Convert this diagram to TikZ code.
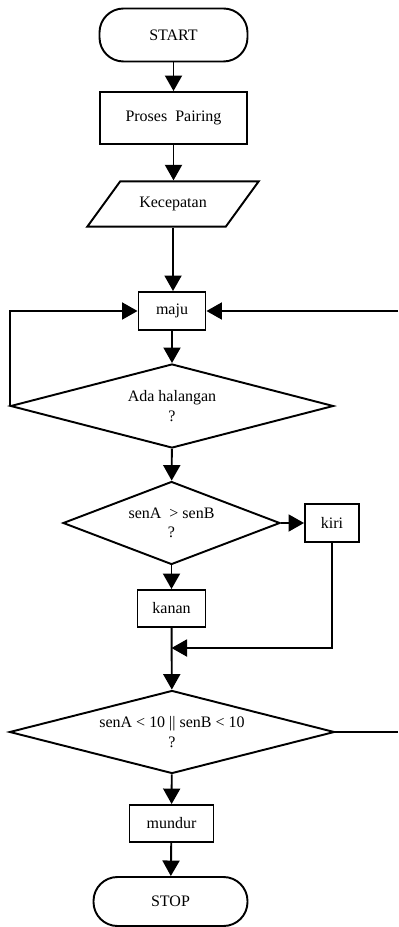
\documentclass[tikz,border=0pt]{standalone}
\usepackage{fontspec}
\setmainfont{Liberation Serif}
\usetikzlibrary{shapes.geometric,arrows.meta,positioning}

\begin{document}
\begin{tikzpicture}[
        line width=1.1pt,
        >={Triangle[width=0.34cm,length=0.31cm]},
        every node/.style={font=\fontsize{9.1}{11}\selectfont, align=center, inner sep=0pt},
        terminal/.style={rectangle, draw, rounded corners=0.48cm},
        process/.style={rectangle, draw},
        inout/.style={trapezium, draw, trapezium left angle=54, trapezium right angle=126,
            inner xsep=0pt, inner ysep=0.315cm, text width=2.11cm},
        decision/.style={diamond, draw, aspect=4},
    ]
        \useasboundingbox (0,0) rectangle (7.96,-18.54);

        \node[terminal, minimum width=2.96cm, minimum height=1.06cm] (start) at (3.47,-0.70) {START};
        \node[process, minimum width=2.94cm, minimum height=1.04cm] (pairing) at (3.47,-2.36) {Proses~ Pairing};
        \node[inout] (speed) at (3.46,-4.08) {Kecepatan};
        \node[process, minimum width=1.34cm, minimum height=0.76cm] (maju) at (3.44,-6.22) {maju};
        \node[decision, minimum width=6.46cm, minimum height=1.68cm] (obstacle) at (3.44,-8.12) {Ada halangan\\?};
        \node[decision, minimum width=4.34cm, minimum height=1.66cm] (compare) at (3.43,-10.46) {senA~ > senB\\?};
        \node[process, minimum width=1.08cm, minimum height=0.76cm] (kiri) at (6.64,-10.46) {kiri};
        \node[process, minimum width=1.36cm, minimum height=0.74cm] (kanan) at (3.43,-12.17) {kanan};
        \node[decision, minimum width=6.5cm, minimum height=1.66cm] (near) at (3.44,-14.64) {senA < 10 || senB < 10\\?};
        \node[process, minimum width=1.68cm, minimum height=0.74cm] (mundur) at (3.43,-16.47) {mundur};
        \node[terminal, minimum width=3.08cm, minimum height=0.98cm] (stop) at (3.41,-18.03) {STOP};

        \coordinate (loopL) at (obstacle.west |- maju.west);
        \coordinate (loopR) at (7.96,-6.22);
        \coordinate (joinR) at (kiri.south |- 0,-12.96);
        \coordinate (joinL) at (kanan.south |- joinR);
        \coordinate (exitR) at (7.96,-14.64);

        \draw[->] (start) -- (pairing);
        \draw[->] (pairing) -- (pairing |- speed.north);
        \draw[->] (speed.south) -- (speed.south |- maju.north);
        \draw[->] (maju) -- (obstacle);
        \draw[->] (obstacle.west) -- (loopL) -- (maju.west);
        \draw[->] (loopR) -- (maju.east);
        \draw[->] (obstacle) -- (compare);
        \draw[->] (compare.east) -- (kiri.west);
        \draw[->] (compare) -- (kanan);
        \draw[->] (kanan) -- (near);
        \draw[->] (kiri.south) -- (joinR) -- (joinL);
        \draw (near.east) -- (exitR);
        \draw[->] (near) -- (mundur);
        \draw[->] (mundur) -- (stop);
    \end{tikzpicture}
\end{document}
